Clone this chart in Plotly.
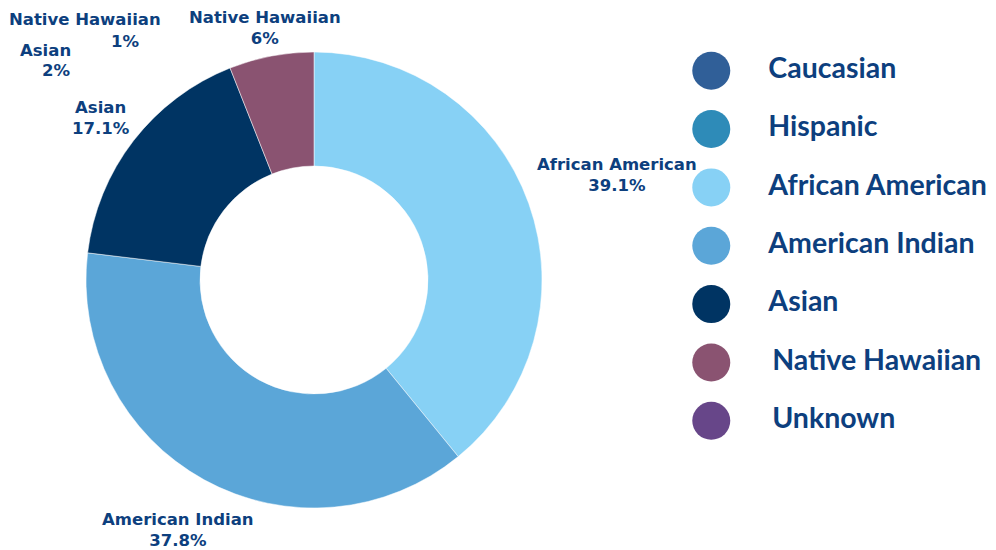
import plotly.graph_objects as go

# donut slices
slice_labels = ['African American', 'American Indian', 'Asian', 'Native Hawaiian']
slice_values = [39.1, 37.8, 17.1, 6]
slice_colors = ['#87d1f5', '#5ba6d8', '#003463', '#8a5371']

# custom legend
legend_names = ['Caucasian', 'Hispanic', 'African American', 'American Indian',
                'Asian', 'Native Hawaiian', 'Unknown']
legend_colors = ['#305f98', '#2e8bb8', '#87d1f5', '#5ba6d8',
                 '#003463', '#8a5371', '#674689']

# stray labels left over in the top-left corner
extra_labels = ['Native Hawaiian', 'Asian']
extra_values = [1, 2]

text_color = '#0d3f7e'
label_font = 'DejaVu Sans'
legend_font = 'Lato'

W, H, PAD = 996, 550, 8  # page body adds an 8px margin


def px(x):
    return (x - PAD) / W


def py(y):
    return 1 - (y - PAD) / H


fig = go.Figure()

fig.add_trace(go.Pie(
    labels=slice_labels,
    values=slice_values,
    hole=0.5,
    sort=False,
    direction='clockwise',
    rotation=0,
    marker=dict(colors=slice_colors, line=dict(color='white', width=0.5)),
    textinfo='none',
    showlegend=False,
    domain=dict(x=[px(86), px(542)], y=[py(508), py(52)]),
))

# slice labels (text from the data, placed like the original)
label_pos = [(617, 175), (178, 530), (101, 118), (265, 28)]
for lab, val, (x, y) in zip(slice_labels, slice_values, label_pos):
    fig.add_annotation(
        x=px(x), y=py(y), xref='paper', yref='paper',
        text=f'{lab}<br>{val:g}%', showarrow=False, align='center',
        xanchor='center', yanchor='middle',
        font=dict(family=label_font, size=16.5, color=text_color, weight='bold'),
    )

# stray labels: name and value sit slightly apart
extra_name_pos = [(85, 19), (45, 51)]
extra_val_pos = [(125, 41), (56, 71)]
for lab, val, (nx, ny), (vx, vy) in zip(extra_labels, extra_values,
                                          extra_name_pos, extra_val_pos):
    for txt, x, y in ((lab, nx, ny), (f'{val}%', vx, vy)):
        fig.add_annotation(
            x=px(x), y=py(y), xref='paper', yref='paper',
            text=txt, showarrow=False, xanchor='center', yanchor='middle',
            font=dict(family=label_font, size=16.5, color=text_color, weight='bold'),
        )

legend_text_x = [0.195, 0.195, 0.195, 0.195, 0.195, 0.208, 0.208]

fig.add_trace(go.Scatter(
    x=[0] * len(legend_names),
    y=legend_names,
    mode='markers',
    marker=dict(size=38, color=legend_colors),
    showlegend=False,
    hoverinfo='skip',
))
fig.add_trace(go.Scatter(
    x=legend_text_x,
    y=legend_names,
    mode='text',
    text=legend_names,
    textposition='middle right',
    textfont=dict(family=legend_font, size=28.5, color=text_color, weight='bold'),
    showlegend=False,
    hoverinfo='skip',
))

fig.update_layout(
    width=W, height=H,
    margin=dict(l=0, r=0, t=0, b=0),
    paper_bgcolor='white', plot_bgcolor='white',
    xaxis=dict(domain=[px(682), 1.0], range=[-0.1, 1], visible=False, fixedrange=True),
    yaxis=dict(domain=[py(450), py(41.5)], type='category', range=[6.5, -0.5],
               visible=False, fixedrange=True),
)

fig.write_html("out.html")
